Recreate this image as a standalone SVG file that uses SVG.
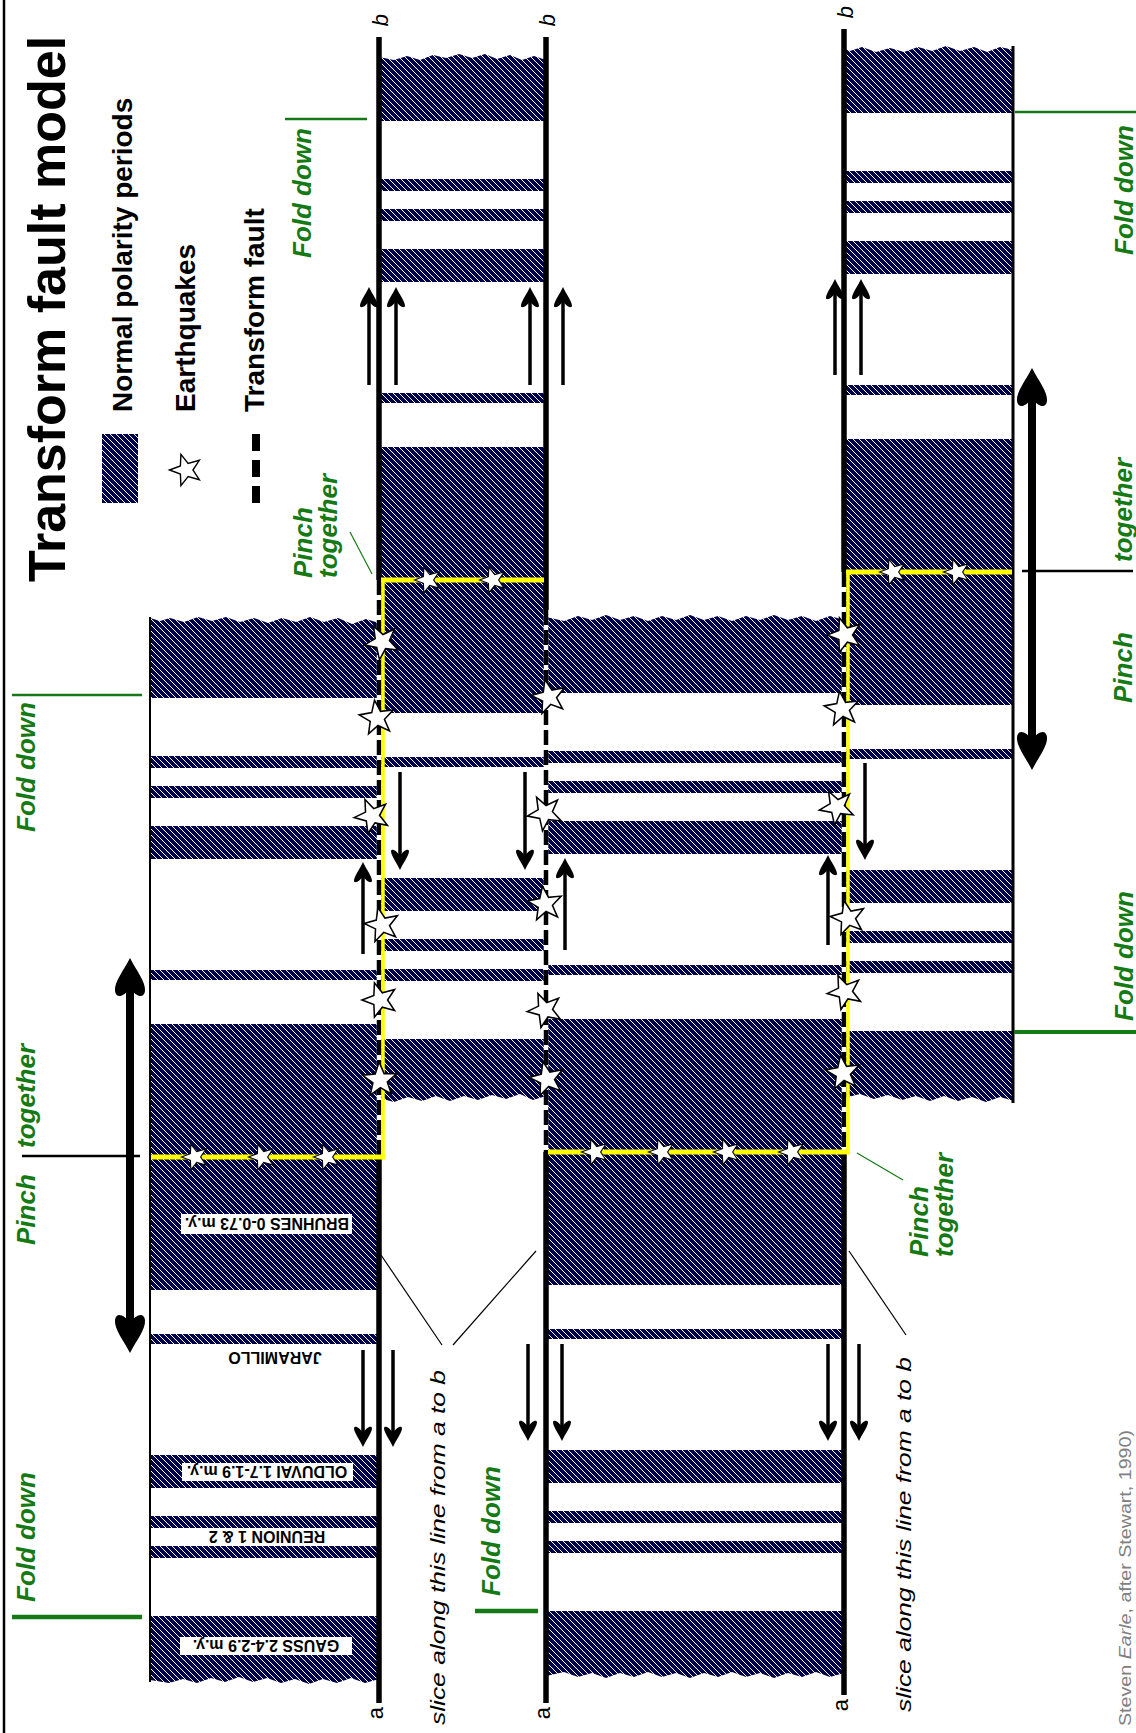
<svg xmlns="http://www.w3.org/2000/svg" width="1136" height="1733" viewBox="0 0 1136 1733">
<style>
.hz{fill:url(#h)}
.ln{stroke:#000;stroke-width:5.5;fill:none}
.bd{stroke:#000;fill:none}
.fzw{stroke:#fff;stroke-width:4.5}
.fz{stroke:#000;stroke-width:4.5;stroke-dasharray:15 5}
.yl{stroke:#ffff00;fill:none}
.st{fill:#fff;stroke:#000;stroke-width:0.85}
.sh{stroke:#000;stroke-width:3.5}
.bs{stroke:#000;stroke-width:8}
.gl{stroke:#157a15;fill:none}
.gt{fill:#157a15;font-family:"Liberation Sans",Arial,sans-serif;font-style:italic;font-weight:bold;font-size:26px}
.lg{font-family:"Liberation Sans",Arial,sans-serif;font-weight:bold;font-size:28px;fill:#000}
.ab{font-family:"Liberation Sans",Arial,sans-serif;font-size:22px;text-anchor:middle}
.sl{font-family:"Liberation Sans",Arial,sans-serif;font-style:italic;font-size:21px}
.pl{font-family:"Liberation Sans",Arial,sans-serif;font-weight:bold;font-size:16px;text-anchor:middle}
.lead{stroke:#000;stroke-width:1.2}
</style>
<defs>
<pattern id="h" width="6" height="6" patternUnits="userSpaceOnUse">
<rect width="6" height="6" fill="#00004a"/>
<path d="M-1,-1 L7,7 M-1,5 L1,7 M5,-1 L7,1" stroke="#fff" stroke-width="1.3" shape-rendering="crispEdges"/>
</pattern>
<path id="star" d="M0,-10 L2.47,-3.4 L9.51,-3.09 L3.99,1.3 L5.88,8.09 L0,4.2 L-5.88,8.09 L-3.99,1.3 L-9.51,-3.09 L-2.47,-3.4 Z"/>
<path id="ta" d="M0,0 C-3,-7 -9,-14 -9,-19 C-8,-22 -3,-19 0,-14 C3,-19 8,-22 9,-19 C9,-14 3,-7 0,0 Z"/>
<path id="ba" d="M0,0 C-6,-12 -16,-24 -15,-33 C-14,-41 -6,-39 0,-30 C6,-39 14,-41 15,-33 C16,-24 6,-12 0,0 Z"/>
</defs>

<rect width="1136" height="1733" fill="#fff"/>
<line x1="4" y1="0" x2="4" y2="1733" stroke="#000" stroke-width="2.5"/>

<g id="title">
<text transform="translate(65,582) rotate(-90)" font-family="Liberation Sans, Arial, sans-serif" font-weight="bold" font-size="52">Transform fault model</text>
</g>

<g id="legend">
<rect x="102" y="434" width="36" height="69" class="hz"/>
<text class="lg" transform="translate(132,412) rotate(-90)">Normal polarity periods</text>
<use href="#star" class="st" transform="translate(186,470) rotate(-90) scale(1.65)"/>
<text class="lg" transform="translate(195,412) rotate(-90)">Earthquakes</text>
<line x1="256" y1="434" x2="256" y2="503" stroke="#000" stroke-width="8" stroke-dasharray="17 9"/>
<text class="lg" transform="translate(264,412) rotate(-90)">Transform fault</text>
</g>

<g id="band-a">
<path class="hz" d="M150,698 L379,698 L379,623 L366,619 L352,624 L338,618 L324,622 L310,617 L296,622 L282,618 L268,623 L254,618 L240,622 L226,617 L212,621 L198,617 L184,622 L170,618 L160,621 L150,618 Z"/>
<rect class="hz" x="150" y="756" width="229" height="12"/>
<rect class="hz" x="150" y="786" width="229" height="12"/>
<rect class="hz" x="150" y="826" width="229" height="33"/>
<rect class="hz" x="150" y="970" width="229" height="10"/>
<rect class="hz" x="150" y="1024" width="229" height="266"/>
<rect class="hz" x="150" y="1334" width="229" height="10"/>
<rect class="hz" x="150" y="1455" width="229" height="33"/>
<rect class="hz" x="150" y="1516" width="229" height="12"/>
<rect class="hz" x="150" y="1546" width="229" height="12"/>
<path class="hz" d="M150,1616 L379,1616 L379,1679 L365,1683 L351,1678 L337,1683 L323,1679 L309,1684 L295,1679 L281,1683 L267,1678 L253,1682 L239,1677 L225,1682 L211,1678 L197,1683 L183,1679 L169,1683 L150,1680 Z"/>
<line class="bd" x1="150" y1="617" x2="150" y2="1682" stroke-width="2"/>
<rect x="181" y="1214" width="171" height="20" fill="#fff"/>
<text class="pl" transform="rotate(180,267,1224)" x="267" y="1229.7">BRUHNES  0-0.73 m.y.</text>
<text class="pl" transform="rotate(180,275,1358)" x="275" y="1363.7">JARAMILLO</text>
<rect x="182" y="1463" width="171" height="18" fill="#fff"/>
<text class="pl" transform="rotate(180,267,1472)" x="267" y="1477.7">OLDUVAI 1.7-1.9 m.y.</text>
<text class="pl" transform="rotate(180,267,1537)" x="267" y="1542.7">REUNION 1 &amp; 2</text>
<rect x="180" y="1637" width="172" height="18" fill="#fff"/>
<text class="pl" transform="rotate(180,266,1646)" x="266" y="1651.7">GAUSS 2.4-2.9 m.y.</text>
</g>

<g id="band-b">
<path class="hz" d="M379,121 L546,121 L546,60 L534,56 L522,60 L510,55 L497,59 L485,54 L472,58 L459,54 L446,58 L433,55 L420,60 L407,56 L394,60 L379,57 Z"/>
<rect class="hz" x="379" y="179" width="167" height="12"/>
<rect class="hz" x="379" y="209" width="167" height="12"/>
<rect class="hz" x="379" y="249" width="167" height="33"/>
<rect class="hz" x="379" y="393" width="167" height="10"/>
<rect class="hz" x="379" y="447" width="167" height="266"/>
<rect class="hz" x="379" y="757" width="167" height="10"/>
<rect class="hz" x="379" y="878" width="167" height="33"/>
<rect class="hz" x="379" y="939" width="167" height="12"/>
<rect class="hz" x="379" y="969" width="167" height="12"/>
<path class="hz" d="M379,1039 L546,1039 L546,1096 L533,1100 L520,1094 L506,1099 L492,1095 L478,1100 L464,1096 L450,1101 L436,1096 L422,1101 L408,1097 L394,1102 L379,1098 Z"/>
</g>

<g id="band-c">
<path class="hz" d="M546,693 L844,693 L844,620 L830,616 L816,621 L802,616 L788,620 L774,615 L760,620 L746,616 L732,621 L718,616 L704,620 L690,615 L676,620 L662,616 L648,621 L634,616 L620,620 L606,615 L592,620 L578,616 L564,621 L546,617 Z"/>
<rect class="hz" x="546" y="751" width="298" height="12"/>
<rect class="hz" x="546" y="781" width="298" height="12"/>
<rect class="hz" x="546" y="821" width="298" height="33"/>
<rect class="hz" x="546" y="965" width="298" height="10"/>
<rect class="hz" x="546" y="1019" width="298" height="266"/>
<rect class="hz" x="546" y="1329" width="298" height="10"/>
<rect class="hz" x="546" y="1450" width="298" height="33"/>
<rect class="hz" x="546" y="1511" width="298" height="12"/>
<rect class="hz" x="546" y="1541" width="298" height="12"/>
<path class="hz" d="M546,1611 L844,1611 L844,1673 L830,1677 L816,1672 L802,1677 L788,1673 L774,1678 L760,1673 L746,1677 L732,1672 L718,1677 L704,1673 L690,1678 L676,1673 L662,1677 L648,1672 L634,1677 L620,1673 L606,1678 L592,1673 L578,1677 L564,1672 L546,1676 Z"/>
</g>

<g id="band-d">
<path class="hz" d="M844,113 L1014,113 L1014,50 L1000,47 L987,52 L974,47 L960,51 L946,46 L932,51 L918,47 L904,52 L890,48 L876,52 L862,47 L850,51 L844,49 Z"/>
<rect class="hz" x="844" y="171" width="170" height="12"/>
<rect class="hz" x="844" y="201" width="170" height="12"/>
<rect class="hz" x="844" y="241" width="170" height="33"/>
<rect class="hz" x="844" y="385" width="170" height="10"/>
<rect class="hz" x="844" y="439" width="170" height="266"/>
<rect class="hz" x="844" y="749" width="170" height="10"/>
<rect class="hz" x="844" y="870" width="170" height="33"/>
<rect class="hz" x="844" y="931" width="170" height="12"/>
<rect class="hz" x="844" y="961" width="170" height="12"/>
<path class="hz" d="M844,1031 L1014,1031 L1014,1101 L1000,1097 L986,1102 L972,1097 L958,1101 L944,1096 L930,1101 L916,1096 L902,1100 L888,1095 L874,1099 L860,1094 L844,1098 Z"/>
<line class="bd" x1="1013" y1="46" x2="1013" y2="1103" stroke-width="3"/>
</g>

<g id="slice-lines">
<line class="ln" x1="379" y1="37" x2="379" y2="580"/>
<line class="ln" x1="379" y1="1157" x2="379" y2="1703"/>
<line class="fzw" x1="379" y1="580" x2="379" y2="1157"/>
<line class="fz" x1="379" y1="580" x2="379" y2="1157"/>
<line class="ln" x1="546" y1="37" x2="546" y2="610"/>
<line class="ln" x1="546" y1="1152" x2="546" y2="1703"/>
<line class="fzw" x1="546" y1="610" x2="546" y2="1152"/>
<line class="fz" x1="546" y1="610" x2="546" y2="1152"/>
<line class="ln" x1="844" y1="29" x2="844" y2="572"/>
<line class="ln" x1="844" y1="1152" x2="844" y2="1695"/>
<line class="fzw" x1="844" y1="572" x2="844" y2="1152"/>
<line class="fz" x1="844" y1="572" x2="844" y2="1152"/>
<text class="ab" font-style="italic" transform="translate(388,20) rotate(-90)">b</text>
<text class="ab" font-style="italic" transform="translate(555,20) rotate(-90)">b</text>
<text class="ab" font-style="italic" transform="translate(853,12) rotate(-90)">b</text>
<text class="ab" transform="translate(383,1713) rotate(-90)">a</text>
<text class="ab" transform="translate(550,1713) rotate(-90)">a</text>
<text class="ab" transform="translate(848,1705) rotate(-90)">a</text>
</g>

<g id="ridges">
<line class="yl" x1="381" y1="580" x2="544" y2="580" stroke-width="5"/>
<line class="yl" x1="846" y1="572" x2="1012" y2="572" stroke-width="5"/>
<line class="yl" x1="151" y1="1157" x2="385" y2="1157" stroke-width="5"/>
<line class="yl" x1="548" y1="1152" x2="850" y2="1152" stroke-width="5"/>
<line class="yl" x1="383" y1="578" x2="383" y2="1159" stroke-width="3.5"/>
<line class="yl" x1="848" y1="570" x2="848" y2="1154" stroke-width="3.5"/>
</g>

<g id="earthquakes">
<use href="#star" class="st" transform="translate(428,580) rotate(-90) scale(1.35)"/>
<use href="#star" class="st" transform="translate(493,580) rotate(-90) scale(1.35)"/>
<use href="#star" class="st" transform="translate(893,572) rotate(-90) scale(1.35)"/>
<use href="#star" class="st" transform="translate(957,572) rotate(-90) scale(1.35)"/>
<use href="#star" class="st" transform="translate(195,1157) rotate(-90) scale(1.35)"/>
<use href="#star" class="st" transform="translate(262,1157) rotate(-90) scale(1.35)"/>
<use href="#star" class="st" transform="translate(327,1157) rotate(-90) scale(1.35)"/>
<use href="#star" class="st" transform="translate(595,1152) rotate(-90) scale(1.35)"/>
<use href="#star" class="st" transform="translate(662,1152) rotate(-90) scale(1.35)"/>
<use href="#star" class="st" transform="translate(727,1152) rotate(-90) scale(1.35)"/>
<use href="#star" class="st" transform="translate(792,1152) rotate(-90) scale(1.35)"/>
<use href="#star" class="st" transform="translate(382,642) rotate(-100) scale(1.8)"/>
<use href="#star" class="st" transform="translate(377,718) rotate(-80) scale(1.8)"/>
<use href="#star" class="st" transform="translate(372,816) rotate(-95) scale(1.8)"/>
<use href="#star" class="st" transform="translate(382,925) rotate(-85) scale(1.8)"/>
<use href="#star" class="st" transform="translate(380,1000) rotate(-90) scale(1.8)"/>
<use href="#star" class="st" transform="translate(380,1080) rotate(-75) scale(1.8)"/>
<use href="#star" class="st" transform="translate(549,697) rotate(-85) scale(1.8)"/>
<use href="#star" class="st" transform="translate(545,813) rotate(-100) scale(1.8)"/>
<use href="#star" class="st" transform="translate(545,904) rotate(-80) scale(1.8)"/>
<use href="#star" class="st" transform="translate(545,1010) rotate(-95) scale(1.8)"/>
<use href="#star" class="st" transform="translate(547,1079) rotate(-85) scale(1.8)"/>
<use href="#star" class="st" transform="translate(845,635) rotate(-90) scale(1.8)"/>
<use href="#star" class="st" transform="translate(842,709) rotate(-80) scale(1.8)"/>
<use href="#star" class="st" transform="translate(837,807) rotate(-100) scale(1.8)"/>
<use href="#star" class="st" transform="translate(848,918) rotate(-85) scale(1.8)"/>
<use href="#star" class="st" transform="translate(845,992) rotate(-95) scale(1.8)"/>
<use href="#star" class="st" transform="translate(843,1073) rotate(-80) scale(1.8)"/>
</g>

<g id="connectors">
<g id="thin-arrows">
<line class="sh" x1="369" y1="385" x2="369" y2="299"/><use href="#ta" transform="translate(369,287) rotate(180)"/>
<line class="sh" x1="396" y1="385" x2="396" y2="299"/><use href="#ta" transform="translate(396,287) rotate(180)"/>
<line class="sh" x1="530" y1="385" x2="530" y2="299"/><use href="#ta" transform="translate(530,287) rotate(180)"/>
<line class="sh" x1="563" y1="385" x2="563" y2="299"/><use href="#ta" transform="translate(563,287) rotate(180)"/>
<line class="sh" x1="835" y1="375" x2="835" y2="291"/><use href="#ta" transform="translate(835,279) rotate(180)"/>
<line class="sh" x1="861" y1="375" x2="861" y2="291"/><use href="#ta" transform="translate(861,279) rotate(180)"/>
<line class="sh" x1="363" y1="954" x2="363" y2="874"/><use href="#ta" transform="translate(363,862) rotate(180)"/>
<line class="sh" x1="565" y1="950" x2="565" y2="870"/><use href="#ta" transform="translate(565,858) rotate(180)"/>
<line class="sh" x1="828" y1="945" x2="828" y2="867"/><use href="#ta" transform="translate(828,855) rotate(180)"/>
<line class="sh" x1="400" y1="772" x2="400" y2="858"/><use href="#ta" transform="translate(400,870)"/>
<line class="sh" x1="525" y1="772" x2="525" y2="858"/><use href="#ta" transform="translate(525,870)"/>
<line class="sh" x1="865" y1="763" x2="865" y2="848"/><use href="#ta" transform="translate(865,860)"/>
<line class="sh" x1="363" y1="1350" x2="363" y2="1435"/><use href="#ta" transform="translate(363,1447)"/>
<line class="sh" x1="393" y1="1350" x2="393" y2="1435"/><use href="#ta" transform="translate(393,1447)"/>
<line class="sh" x1="528" y1="1344" x2="528" y2="1429"/><use href="#ta" transform="translate(528,1441)"/>
<line class="sh" x1="562" y1="1344" x2="562" y2="1429"/><use href="#ta" transform="translate(562,1441)"/>
<line class="sh" x1="828" y1="1344" x2="828" y2="1429"/><use href="#ta" transform="translate(828,1441)"/>
<line class="sh" x1="859" y1="1344" x2="859" y2="1429"/><use href="#ta" transform="translate(859,1441)"/>
</g>
<g id="pinch-arrows">
<line class="bs" x1="130" y1="985" x2="130" y2="1326"/>
<use href="#ba" transform="translate(130,958) rotate(180)"/>
<use href="#ba" transform="translate(130,1353)"/>
<line class="bs" x1="1032" y1="395" x2="1032" y2="743"/>
<use href="#ba" transform="translate(1032,368) rotate(180)"/>
<use href="#ba" transform="translate(1032,770)"/>
<line x1="22" y1="1156" x2="140" y2="1156" stroke="#000" stroke-width="2.5"/>
<line x1="1022" y1="571" x2="1133" y2="571" stroke="#000" stroke-width="2.5"/>
</g>
<g id="leaders">
<line class="lead" x1="442" y1="1345" x2="381" y2="1255"/>
<line class="lead" x1="453" y1="1345" x2="536" y2="1251"/>
<line class="lead" x1="906" y1="1335" x2="849" y2="1251"/>
<line class="gl" x1="350" y1="532" x2="372" y2="574" stroke-width="1.2"/>
<line class="gl" x1="857" y1="1153" x2="903" y2="1180" stroke-width="1.2"/>
</g>
</g>

<g id="fold-labels">
<line class="gl" x1="285" y1="119" x2="367" y2="119" stroke-width="2.5"/>
<text class="gt" transform="translate(311,258) rotate(-90)">Fold down</text>
<line class="gl" x1="1015" y1="112" x2="1136" y2="112" stroke-width="2.5"/>
<text class="gt" transform="translate(1133,255) rotate(-90)">Fold down</text>
<line class="gl" x1="12" y1="695" x2="142" y2="695" stroke-width="2.5"/>
<text class="gt" transform="translate(35,832) rotate(-90)">Fold down</text>
<line class="gl" x1="12" y1="1617" x2="142" y2="1617" stroke-width="4.5"/>
<text class="gt" transform="translate(35,1602) rotate(-90)">Fold down</text>
<line class="gl" x1="475" y1="1611" x2="538" y2="1611" stroke-width="4.5"/>
<text class="gt" transform="translate(500,1596) rotate(-90)">Fold down</text>
<line class="gl" x1="1014" y1="1032" x2="1136" y2="1032" stroke-width="4"/>
<text class="gt" transform="translate(1133,1021) rotate(-90)">Fold down</text>
</g>

<g id="pinch-labels">
<text class="gt" transform="translate(35,1245) rotate(-90)">Pinch</text>
<text class="gt" transform="translate(35,1148) rotate(-90)">together</text>
<text class="gt" transform="translate(1132,703) rotate(-90)">Pinch</text>
<text class="gt" transform="translate(1132,562) rotate(-90)">together</text>
<text class="gt" transform="translate(312,578) rotate(-90)">Pinch</text>
<text class="gt" transform="translate(337,578) rotate(-90)">together</text>
<text class="gt" transform="translate(928,1257) rotate(-90)">Pinch</text>
<text class="gt" transform="translate(953,1257) rotate(-90)">together</text>
</g>

<g id="slice-labels">
<text class="sl" transform="translate(445,1725) rotate(-90)" textLength="355" lengthAdjust="spacingAndGlyphs">slice along this line from a to b</text>
<text class="sl" transform="translate(911,1712) rotate(-90)" textLength="355" lengthAdjust="spacingAndGlyphs">slice along this line from a to b</text>
</g>

<g id="credit">
<text transform="translate(1131,1430) rotate(-90)" text-anchor="end" font-family="Liberation Sans, Arial, sans-serif" font-size="17" fill="#808080" textLength="296" lengthAdjust="spacingAndGlyphs">Steven <tspan font-style="italic">Earle</tspan>, after Stewart, 1990)</text>
</g>
</svg>
